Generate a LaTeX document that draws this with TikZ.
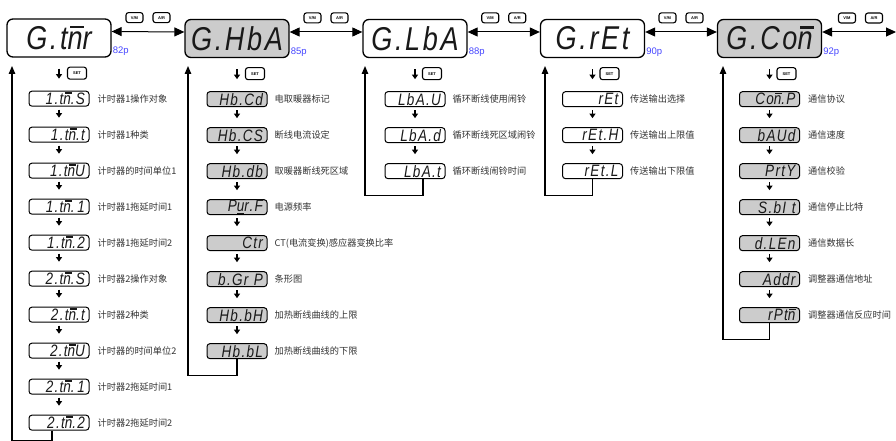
\documentclass[tikz,border=0pt]{standalone}
\usepackage{fontspec}
\setmainfont{Liberation Sans}
\newfontfamily\cjk{Noto Sans CJK SC}
\newfontfamily\segfont[FakeStretch=0.82,LetterSpace=8]{Liberation Sans}
\usetikzlibrary{arrows.meta,positioning,calc}

\definecolor{panelgrey}{RGB}{204,204,204}
\definecolor{pageblue}{RGB}{70,70,255}
\definecolor{inkdark}{RGB}{25,25,25}

% seven-segment helpers: n with top bar, u with bottom bar
\newcommand{\segm}{\ooalign{n\cr\hidewidth\kern0.12em\rule[0.64em]{0.42em}{0.08em}\hidewidth\cr}}
\newcommand{\segw}{\ooalign{u\cr\hidewidth\rule[-0.14em]{0.42em}{0.08em}\hidewidth\cr}}

\tikzset{
  menubox/.style={draw=black, line width=1.3pt, rounded corners=6pt,
    minimum width=104pt, minimum height=38pt, inner sep=0pt, text=inkdark,
    font=\segfont\itshape\fontsize{33}{33}\selectfont},
  parbox/.style={draw=black, line width=1pt, rounded corners=3pt,
    minimum height=15pt, text width=52pt, align=right, inner xsep=4pt,
    inner ysep=0.5pt, text=inkdark,
    font=\segfont\itshape\fontsize{16.5}{16.5}\selectfont},
  greyed/.style={fill=panelgrey},
  desc/.style={font=\cjk\fontsize{9.2}{10}\selectfont, text=black!80, inner sep=0pt},
  keybtn/.style={draw=black, line width=1.1pt, rounded corners=2.5pt, fill=white,
    minimum width=17pt, minimum height=10pt, inner sep=0pt,
    font=\bfseries\fontsize{4}{4}\selectfont},
  setbtn/.style={keybtn, minimum width=19pt, minimum height=12pt},
  pagenum/.style={font=\fontsize{9.5}{9.5}\selectfont, text=pageblue,
    inner sep=0pt, anchor=base west},
  stepdown/.style={-{Triangle[length=4.5pt,width=6pt]}, line width=1.8pt,
    shorten <=3pt, shorten >=9pt},
  swap/.style={{Triangle[length=10pt,width=9pt]}-{Triangle[length=10pt,width=9pt]},
    line width=1pt},
  backline/.style={-{Triangle[length=8pt,width=6.5pt]}, line width=1.3pt},
}

\begin{document}
\begin{tikzpicture}[x=1pt,y=-1pt]
\useasboundingbox (0,0) rectangle (896,441);

% top menu groups
\node[menubox] (g1) at (59,38) {G.t\segm r};
\node[menubox, greyed] (g2) at (237,38.5) {G.HbA};
\node[menubox] (g3) at (415,38.5) {G.LbA};
\node[menubox] (g4) at (592.5,38.5) {G.rEt};
\node[menubox, greyed] (g5) at (769.5,38.5) {G.Co\segm};
\coordinate (edge) at (896,32);

\node[pagenum] at ([xshift=1pt,yshift=4pt]g1.south east) {82p};
\node[pagenum] at ([xshift=1pt,yshift=4pt]g2.south east) {85p};
\node[pagenum] at ([xshift=1pt,yshift=4pt]g3.south east) {88p};
\node[pagenum] at ([xshift=1pt,yshift=4pt]g4.south east) {90p};
\node[pagenum] at ([xshift=1pt,yshift=4pt]g5.south east) {92p};

\draw[swap] ([yshift=6.5pt]g1.east) -- ([yshift=6.5pt]g2.west);
\draw[swap] ([yshift=6.5pt]g2.east) -- ([yshift=6.5pt]g3.west);
\draw[swap] ([yshift=6.5pt]g3.east) -- ([yshift=6.5pt]g4.west);
\draw[swap] ([yshift=6.5pt]g4.east) -- ([yshift=6.5pt]g5.west);
\draw[swap] ([yshift=6.5pt]g5.east) -- (edge);

\node[keybtn] (k1a) at ($(g1.north east)!.5!(g2.north west)+(-13.5pt,1pt)$) {V/M};
\node[keybtn] (k1b) at ($(g1.north east)!.5!(g2.north west)+(13.5pt,1pt)$) {A/R};
\node[keybtn] (k2a) at ($(g2.north east)!.5!(g3.north west)+(-13.5pt,1pt)$) {V/M};
\node[keybtn] (k2b) at ($(g2.north east)!.5!(g3.north west)+(13.5pt,1pt)$) {A/R};
\node[keybtn] (k3a) at ($(g3.north east)!.5!(g4.north west)+(-13.5pt,1pt)$) {V/M};
\node[keybtn] (k3b) at ($(g3.north east)!.5!(g4.north west)+(13.5pt,1pt)$) {A/R};
\node[keybtn] (k4a) at ($(g4.north east)!.5!(g5.north west)+(-13.5pt,1pt)$) {V/M};
\node[keybtn] (k4b) at ($(g4.north east)!.5!(g5.north west)+(13.5pt,1pt)$) {A/R};
\node[keybtn] (k5a) at (847,18) {V/M};
\node[keybtn] (k5b) at (874,18) {A/R};

\node[setbtn] (s1) at ([xshift=18pt,yshift=-15.5pt]g1.south) {SET};
\node[setbtn] (s2) at ([xshift=18pt,yshift=-15.5pt]g2.south) {SET};
\node[setbtn] (s3) at ([xshift=17pt,yshift=-15.5pt]g3.south) {SET};
\node[setbtn] (s4) at ([xshift=17pt,yshift=-15.5pt]g4.south) {SET};
\node[setbtn] (s5) at ([xshift=17pt,yshift=-15.5pt]g5.south) {SET};

% column 1: timers
\node[parbox, below=33pt of g1] (c1a) {1.t\segm.S};
\node[parbox, below=20pt of c1a] (c1b) {1.t\segm.t};
\node[parbox, below=20pt of c1b] (c1c) {1.t\segm U};
\node[parbox, below=20pt of c1c] (c1d) {1.t\segm.\,1};
\node[parbox, below=20pt of c1d] (c1e) {1.t\segm.2};
\node[parbox, below=20pt of c1e] (c1f) {2.t\segm.S};
\node[parbox, below=20pt of c1f] (c1g) {2.t\segm.t};
\node[parbox, below=20pt of c1g] (c1h) {2.t\segm U};
\node[parbox, below=20pt of c1h] (c1i) {2.t\segm.\,1};
\node[parbox, below=20pt of c1i] (c1j) {2.t\segm.2};
\node[desc, right=8pt of c1a] {计时器1操作对象};
\node[desc, right=8pt of c1b] {计时器1种类};
\node[desc, right=8pt of c1c] {计时器的时间单位1};
\node[desc, right=8pt of c1d] {计时器1拖延时间1};
\node[desc, right=8pt of c1e] {计时器1拖延时间2};
\node[desc, right=8pt of c1f] {计时器2操作对象};
\node[desc, right=8pt of c1g] {计时器2种类};
\node[desc, right=8pt of c1h] {计时器的时间单位2};
\node[desc, right=8pt of c1i] {计时器2拖延时间1};
\node[desc, right=8pt of c1j] {计时器2拖延时间2};

% column 2: heater break
\node[parbox, greyed, below=33pt of g2] (c2a) {Hb.Cd};
\node[parbox, greyed, below=20pt of c2a] (c2b) {Hb.CS};
\node[parbox, greyed, below=20pt of c2b] (c2c) {Hb.db};
\node[parbox, greyed, below=20pt of c2c] (c2d) {P\segw r.F};
\node[parbox, greyed, below=20pt of c2d] (c2e) {Ctr};
\node[parbox, greyed, below=20pt of c2e] (c2f) {b.Gr P};
\node[parbox, greyed, below=20pt of c2f] (c2g) {Hb.bH};
\node[parbox, greyed, below=20pt of c2g] (c2h) {Hb.bL};
\node[desc, right=7pt of c2a] {电取暖器标记};
\node[desc, right=7pt of c2b] {断线电流设定};
\node[desc, right=7pt of c2c] {取暖器断线死区域};
\node[desc, right=7pt of c2d] {电源频率};
\node[desc, right=7pt of c2e] {CT(电流变换)感应器变换比率};
\node[desc, right=7pt of c2f] {条形图};
\node[desc, right=7pt of c2g] {加热断线曲线的上限};
\node[desc, right=7pt of c2h] {加热断线曲线的下限};

% column 3: loop break
\node[parbox, below=33pt of g3] (c3a) {LbA.U};
\node[parbox, below=20pt of c3a] (c3b) {LbA.d};
\node[parbox, below=20pt of c3b] (c3c) {LbA.t};
\node[desc, right=7pt of c3a] {循环断线使用闹铃};
\node[desc, right=7pt of c3b] {循环断线死区域闹铃};
\node[desc, right=7pt of c3c] {循环断线闹铃时间};

% column 4: retransmission
\node[parbox, below=33pt of g4] (c4a) {rEt};
\node[parbox, below=20pt of c4a] (c4b) {rEt.H};
\node[parbox, below=20pt of c4b] (c4c) {rEt.L};
\node[desc, right=7pt of c4a] {传送输出选择};
\node[desc, right=7pt of c4b] {传送输出上限值};
\node[desc, right=7pt of c4c] {传送输出下限值};

% column 5: communication
\node[parbox, greyed, below=33pt of g5] (c5a) {Co\segm.P};
\node[parbox, greyed, below=20pt of c5a] (c5b) {bAUd};
\node[parbox, greyed, below=20pt of c5b] (c5c) {PrtY};
\node[parbox, greyed, below=20pt of c5c] (c5d) {S.bI t};
\node[parbox, greyed, below=20pt of c5d] (c5e) {d.LEn};
\node[parbox, greyed, below=20pt of c5e] (c5f) {Addr};
\node[parbox, greyed, below=20pt of c5f] (c5g) {rPt\segm};
\node[desc, right=8pt of c5a] {通信协议};
\node[desc, right=8pt of c5b] {通信速度};
\node[desc, right=8pt of c5c] {通信校验};
\node[desc, right=8pt of c5d] {通信停止比特};
\node[desc, right=8pt of c5e] {通信数据长};
\node[desc, right=8pt of c5f] {调整器通信地址};
\node[desc, right=8pt of c5g] {调整器通信反应时间};

% SET steps into each list
\draw[stepdown, shorten <=11pt, shorten >=12pt] (g1) -- (c1a);
\draw[stepdown, shorten <=11pt, shorten >=12pt] (g2) -- (c2a);
\draw[stepdown, shorten <=11pt, shorten >=12pt] (g3) -- (c3a);
\draw[stepdown, shorten <=11pt, shorten >=12pt] (g4) -- (c4a);
\draw[stepdown, shorten <=11pt, shorten >=12pt] (g5) -- (c5a);

\draw[stepdown] (c1a) -- (c1b);
\draw[stepdown] (c1b) -- (c1c);
\draw[stepdown] (c1c) -- (c1d);
\draw[stepdown] (c1d) -- (c1e);
\draw[stepdown] (c1e) -- (c1f);
\draw[stepdown] (c1f) -- (c1g);
\draw[stepdown] (c1g) -- (c1h);
\draw[stepdown] (c1h) -- (c1i);
\draw[stepdown] (c1i) -- (c1j);
\draw[stepdown] (c2a) -- (c2b);
\draw[stepdown] (c2b) -- (c2c);
\draw[stepdown] (c2c) -- (c2d);
\draw[stepdown] (c2d) -- (c2e);
\draw[stepdown] (c2e) -- (c2f);
\draw[stepdown] (c2f) -- (c2g);
\draw[stepdown] (c2g) -- (c2h);
\draw[stepdown] (c3a) -- (c3b);
\draw[stepdown] (c3b) -- (c3c);
\draw[stepdown] (c4a) -- (c4b);
\draw[stepdown] (c4b) -- (c4c);
\draw[stepdown] (c5a) -- (c5b);
\draw[stepdown] (c5b) -- (c5c);
\draw[stepdown] (c5c) -- (c5d);
\draw[stepdown] (c5d) -- (c5e);
\draw[stepdown] (c5e) -- (c5f);
\draw[stepdown] (c5f) -- (c5g);

% return lines back to the group
\coordinate (up1) at (12,66);
\coordinate (up2) at (188,66);
\coordinate (up3) at (365,66);
\coordinate (up4) at (545,66);
\coordinate (up5) at (723,66);
\draw[backline] ([xshift=-7pt]c1j.south) -- ++(0,-10pt) -| (up1);
\draw[backline] (c2h.south) -- ++(0,-16pt) -| (up2);
\draw[backline] ([xshift=8pt]c3c.south) -- ++(0,-16pt) -| (up3);
\draw[backline] (c4c.south) -- ++(0,-16pt) -| (up4);
\draw[backline] (c5g.south) -- ++(0,-16pt) -| (up5);
\end{tikzpicture}
\end{document}
